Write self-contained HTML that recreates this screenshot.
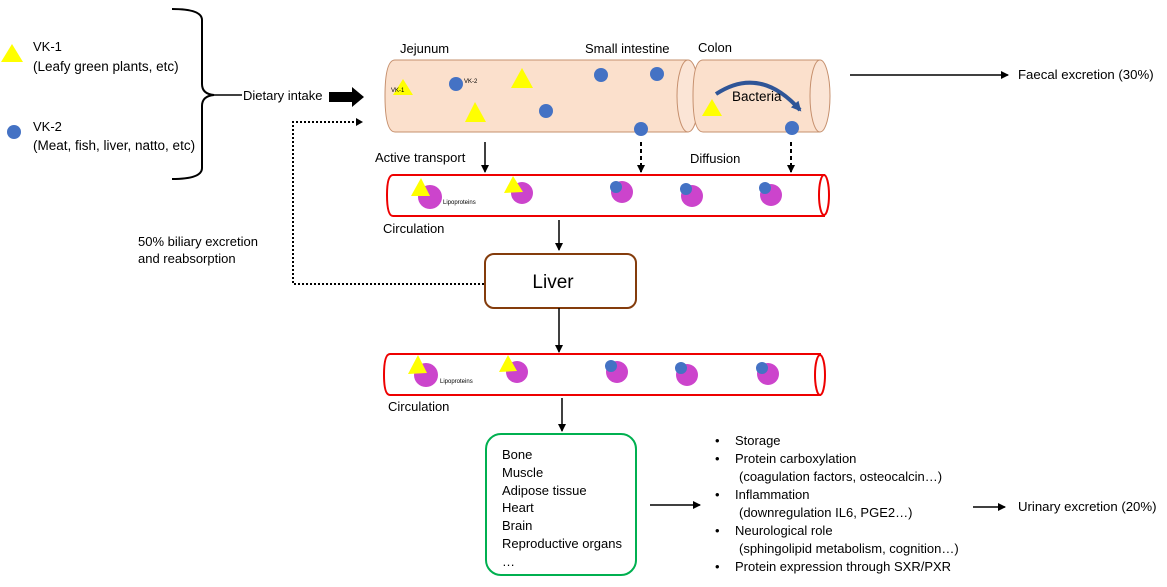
<!DOCTYPE html>
<html><head><meta charset="utf-8"><style>
html,body{margin:0;padding:0;background:#fff;}
svg{display:block;font-family:"Liberation Sans",Arial,sans-serif;}
</style></head><body>
<svg width="1167" height="587" viewBox="0 0 1167 587" xmlns="http://www.w3.org/2000/svg">
<defs>
<marker id="ah" markerWidth="8" markerHeight="8" refX="7" refY="4" orient="auto" markerUnits="userSpaceOnUse"><path d="M0,0 L8,4 L0,8 z" fill="#000"/></marker>
<marker id="ahb" markerWidth="10" markerHeight="10" refX="8" refY="5" orient="auto" markerUnits="userSpaceOnUse"><path d="M0,0 L10,5 L0,10 z" fill="#2f5597"/></marker>
</defs>
<polygon points="12,44 1,62 23,62" fill="#ffff00"/>
<text x="33" y="51" font-size="13">VK-1</text>
<text x="33" y="71" font-size="13.5">(Leafy green plants, etc)</text>
<circle cx="14" cy="132" r="7" fill="#4472c4"/>
<text x="33" y="131" font-size="13">VK-2</text>
<text x="33" y="150" font-size="13.5">(Meat, fish, liver, natto, etc)</text>
<path d="M172,9 Q202,9 202,20 L202,84 Q202,94 214,95 Q202,96 202,106 L202,168 Q202,179 172,179" fill="none" stroke="#000" stroke-width="2"/>
<line x1="214" y1="95" x2="242" y2="95" stroke="#000" stroke-width="1.5"/>
<text x="243" y="100" font-size="13">Dietary intake</text>
<polygon points="329,92 352,92 352,87 364,97 352,107 352,102 329,102" fill="#000"/>
<polyline points="484,284 293,284 293,122 357,122" fill="none" stroke="#000" stroke-width="2" stroke-dasharray="2,2"/>
<polygon points="356,118 363,122 356,126" fill="#000"/>
<text x="138" y="246" font-size="13">50%  biliary excretion</text>
<text x="138" y="263" font-size="13">and reabsorption</text>
<text x="400" y="53" font-size="13">Jejunum</text>
<text x="585" y="53" font-size="13">Small intestine</text>
<text x="698" y="52" font-size="13">Colon</text>
<path d="M395,60 L688,60 L688,132 L395,132 Q385,132 385,96 Q385,60 395,60 z" fill="#fbe0cc" stroke="#c6906e" stroke-width="1"/>
<ellipse cx="688" cy="96" rx="11" ry="36" fill="#fbe5d6" stroke="#c6906e"/>
<path d="M703,60 L820,60 L820,132 L703,132 Q693,132 693,96 Q693,60 703,60 z" fill="#fbe0cc" stroke="#c6906e"/>
<ellipse cx="820" cy="96" rx="10" ry="36" fill="#fbe5d6" stroke="#c6906e"/>
<polygon points="403,79 393,95 413,95" fill="#ffff00"/>
<text x="391" y="92" font-size="6">VK-1</text>
<circle cx="456" cy="84" r="7" fill="#4472c4"/>
<text x="464" y="83" font-size="6">VK-2</text>
<polygon points="522,68 511,88 533,88" fill="#ffff00"/>
<polygon points="475,102 465,122 486,122" fill="#ffff00"/>
<circle cx="546" cy="111" r="7" fill="#4472c4"/>
<circle cx="601" cy="75" r="7" fill="#4472c4"/>
<circle cx="657" cy="74" r="7" fill="#4472c4"/>
<circle cx="641" cy="129" r="7" fill="#4472c4"/>
<polygon points="712,99 702,116 722,116" fill="#ffff00"/>
<circle cx="792" cy="128" r="7" fill="#4472c4"/>
<path d="M716,94 Q760,65 800,110" fill="none" stroke="#2f5597" stroke-width="4" marker-end="url(#ahb)"/>
<text x="732" y="101" font-size="13.5">Bacteria</text>
<line x1="850" y1="75" x2="1008" y2="75" stroke="#000" stroke-width="1.5" marker-end="url(#ah)"/>
<text x="1018" y="79" font-size="13.2">Faecal excretion (30%)</text>
<line x1="485" y1="142" x2="485" y2="172" stroke="#000" stroke-width="1.5" marker-end="url(#ah)"/>
<line x1="641" y1="142" x2="641" y2="172" stroke="#000" stroke-width="2" stroke-dasharray="4,3" marker-end="url(#ah)"/>
<line x1="791" y1="142" x2="791" y2="172" stroke="#000" stroke-width="2" stroke-dasharray="4,3" marker-end="url(#ah)"/>
<text x="375" y="162" font-size="13">Active transport</text>
<text x="690" y="163" font-size="13">Diffusion</text>
<path d="M393,175 L824,175 L824,216 L393,216 Q387,216 387,195 Q387,175 393,175 z" fill="#fff" stroke="#e00" stroke-width="2"/>
<ellipse cx="824" cy="195" rx="5" ry="20" fill="#fff" stroke="#e00" stroke-width="2"/>
<circle cx="430" cy="197" r="12" fill="#cc44cc"/><polygon points="421,178 411,196 430,196" fill="#ffff00"/>
<text x="443" y="204" font-size="6">Lipoproteins</text>
<circle cx="522" cy="193" r="11" fill="#cc44cc"/><polygon points="513,176 504,193 523,192" fill="#ffff00"/>
<circle cx="622" cy="192" r="11" fill="#cc44cc"/><circle cx="616" cy="187" r="6" fill="#4472c4"/>
<circle cx="692" cy="196" r="11" fill="#cc44cc"/><circle cx="686" cy="189" r="6" fill="#4472c4"/>
<circle cx="771" cy="195" r="11" fill="#cc44cc"/><circle cx="765" cy="188" r="6" fill="#4472c4"/>
<text x="383" y="233" font-size="13">Circulation</text>
<line x1="559" y1="220" x2="559" y2="250" stroke="#000" stroke-width="1.5" marker-end="url(#ah)"/>
<rect x="485" y="254" width="151" height="54" rx="9" fill="#fff" stroke="#843c0c" stroke-width="2"/>
<text x="553" y="288" font-size="19" text-anchor="middle">Liver</text>
<line x1="559" y1="308" x2="559" y2="352" stroke="#000" stroke-width="1.5" marker-end="url(#ah)"/>
<path d="M390,354 L820,354 L820,395 L390,395 Q384,395 384,375 Q384,354 390,354 z" fill="#fff" stroke="#e00" stroke-width="2"/>
<ellipse cx="820" cy="375" rx="5" ry="20" fill="#fff" stroke="#e00" stroke-width="2"/>
<circle cx="426" cy="375" r="12" fill="#cc44cc"/><polygon points="418,355 408,374 427,373" fill="#ffff00"/>
<text x="440" y="383" font-size="6">Lipoproteins</text>
<circle cx="517" cy="372" r="11" fill="#cc44cc"/><polygon points="508,355 499,372 517,371" fill="#ffff00"/>
<circle cx="617" cy="372" r="11" fill="#cc44cc"/><circle cx="611" cy="366" r="6" fill="#4472c4"/>
<circle cx="687" cy="375" r="11" fill="#cc44cc"/><circle cx="681" cy="368" r="6" fill="#4472c4"/>
<circle cx="768" cy="374" r="11" fill="#cc44cc"/><circle cx="762" cy="368" r="6" fill="#4472c4"/>
<text x="388" y="411" font-size="13">Circulation</text>
<line x1="562" y1="398" x2="562" y2="431" stroke="#000" stroke-width="1.5" marker-end="url(#ah)"/>
<rect x="486" y="434" width="150" height="141" rx="15" fill="#fff" stroke="#00b050" stroke-width="2"/>
<g font-size="13">
<text x="502" y="459">Bone</text>
<text x="502" y="477">Muscle</text>
<text x="502" y="495">Adipose tissue</text>
<text x="502" y="512">Heart</text>
<text x="502" y="530">Brain</text>
<text x="502" y="548">Reproductive organs</text>
<text x="502" y="566">…</text>
</g>
<line x1="650" y1="505" x2="700" y2="505" stroke="#000" stroke-width="1.5" marker-end="url(#ah)"/>
<g font-size="13">
<text x="715" y="445">•</text><text x="735" y="445">Storage</text>
<text x="715" y="463">•</text><text x="735" y="463">Protein carboxylation</text>
<text x="739" y="481">(coagulation factors, osteocalcin…)</text>
<text x="715" y="499">•</text><text x="735" y="499">Inflammation</text>
<text x="739" y="517">(downregulation IL6, PGE2…)</text>
<text x="715" y="535">•</text><text x="735" y="535">Neurological role</text>
<text x="739" y="553">(sphingolipid metabolism, cognition…)</text>
<text x="715" y="571">•</text><text x="735" y="571">Protein expression through SXR/PXR</text>
</g>
<line x1="973" y1="507" x2="1005" y2="507" stroke="#000" stroke-width="1.5" marker-end="url(#ah)"/>
<text x="1018" y="511" font-size="13.2">Urinary excretion (20%)</text>
</svg>
</body></html>
